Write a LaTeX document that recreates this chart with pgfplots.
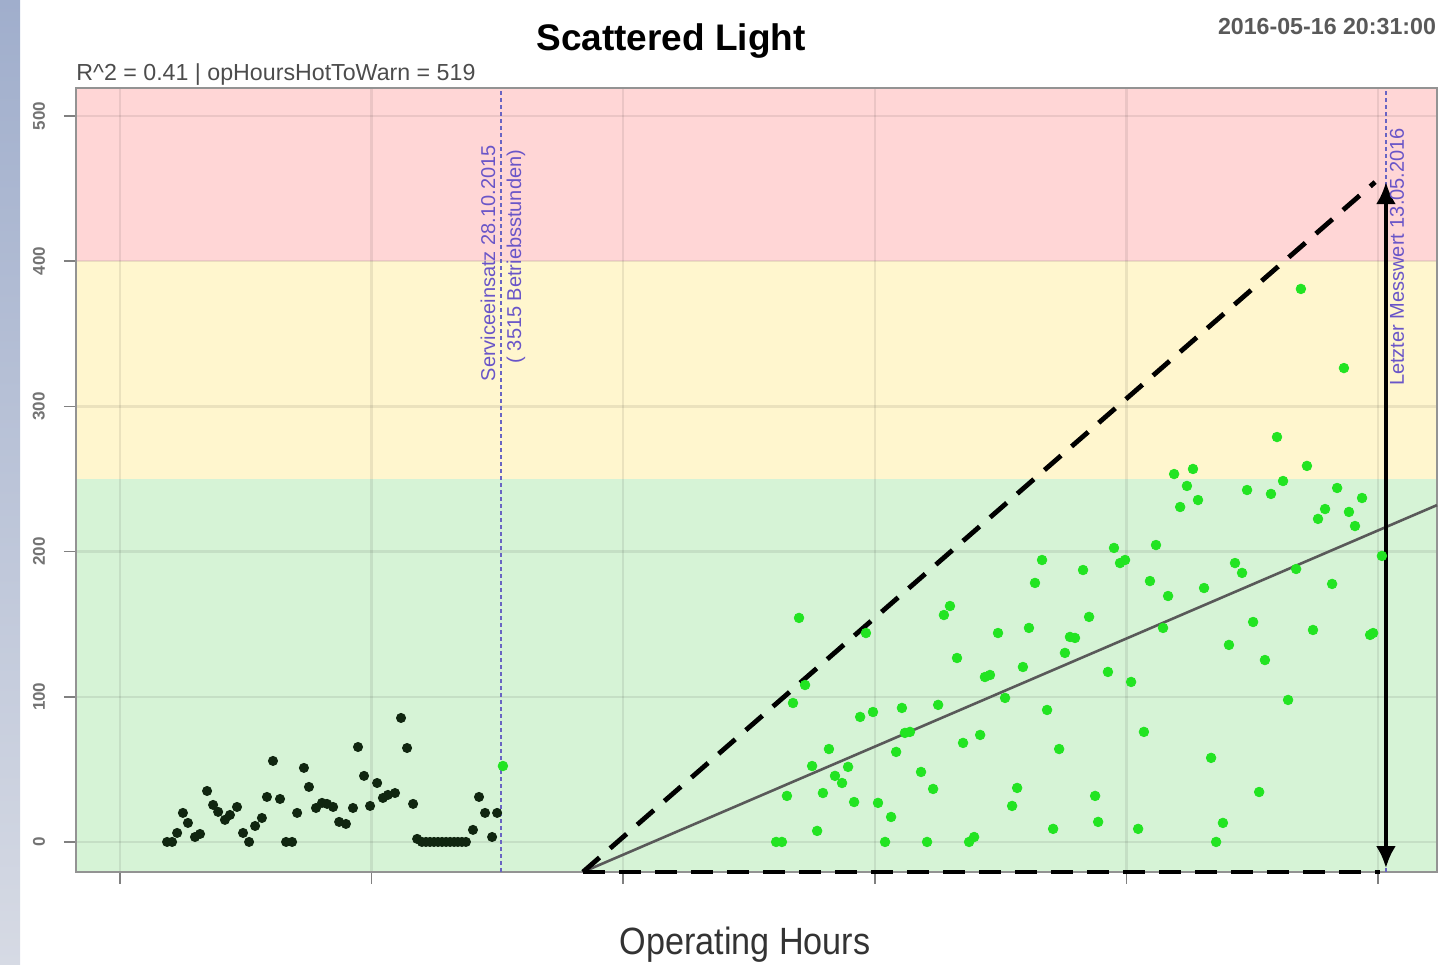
\documentclass[border=0pt]{standalone}
\usepackage{pgfplots}
\pgfplotsset{compat=1.18}
\usepackage{pgfplotstable}
\usepackage{fontspec}
\setmainfont{Liberation Sans}
\usetikzlibrary{arrows.meta}

\definecolor{bandred}{RGB}{255,214,214}
\definecolor{bandyellow}{RGB}{255,246,206}
\definecolor{bandgreen}{RGB}{214,243,214}
\definecolor{ptgreen}{RGB}{34,228,34}
\definecolor{ptdark}{RGB}{16,38,16}
\definecolor{vline}{RGB}{105,100,195}
\definecolor{vtext}{RGB}{105,85,200}

% measurements before the service visit
\pgfplotstableread{
x y
2187 0
2207 0
2227 6.2
2250 20.0
2270 13.1
2298 3.4
2318 5.5
2346 35.1
2370 25.5
2390 20.7
2417 15.2
2437 18.6
2465 24.1
2489 6.2
2513 0
2537 11.0
2564 16.5
2584 31.0
2608 55.8
2636 29.6
2660 0
2684 0
2704 20.0
2731 51.0
2751 37.9
2779 23.4
2803 26.9
2823 26.2
2847 24.1
2871 13.8
2898 12.4
2926 23.4
2946 65.4
2970 45.5
2994 24.8
3022 40.6
3045 30.3
3065 32.4
3093 33.7
3117 85.4
3141 64.7
3165 26.2
3181 2.1
3200 0
3216 0
3232 0
3248 0
3264 0
3280 0
3296 0
3312 0
3328 0
3343 0
3359 0
3375 0
3403 8.3
3427 31.0
3451 20.0
3479 3.4
3499 20.0
}\before

% measurements after the service visit
\pgfplotstableread{
x y
3522 52.3
4608 0
4631 0
4651 31.7
4675 95.7
4699 154.3
4723 108.1
4751 52.3
4771 7.6
4794 33.7
4818 64.0
4842 45.5
4870 40.6
4894 51.7
4918 27.5
4942 86.1
4965 143.9
4993 89.5
5013 26.9
5041 0
5065 17.2
5085 62.0
5108 92.3
5120 75.1
5140 75.8
5184 48.2
5208 0
5232 36.5
5252 94.4
5275 156.3
5299 162.5
5327 126.7
5351 68.2
5375 0
5395 3.4
5419 73.7
5438 113.6
5458 115.0
5490 143.9
5518 99.2
5546 24.8
5566 37.2
5589 120.5
5613 147.4
5637 178.4
5665 194.2
5685 90.9
5709 9.0
5733 64.0
5756 130.2
5776 141.2
5796 140.5
5828 187.3
5852 155.0
5876 31.7
5888 13.8
5927 117.1
5951 202.5
5975 192.1
5995 194.2
6019 110.2
6047 9.0
6070 75.8
6094 179.7
6118 204.5
6146 147.4
6166 169.4
6190 253.4
6214 230.7
6241 245.2
6265 256.9
6285 235.5
6309 174.9
6337 57.9
6357 0
6384 13.1
6408 135.7
6432 192.1
6460 185.3
6480 242.4
6504 151.5
6528 34.4
6551 125.3
6575 239.7
6599 278.9
6623 248.6
6643 97.8
6675 188.0
6694 380.9
6718 259.0
6742 146.0
6762 222.5
6790 229.3
6818 177.7
6838 243.8
6865 326.4
6885 227.3
6909 217.6
6937 236.9
6969 142.6
6981 143.9
7016 197.0
}\after

\begin{document}
\begin{tikzpicture}
% strip of the cropped screenshot at the left edge
\shade[top color={rgb,255:red,160;green,174;blue,204}, bottom color={rgb,255:red,214;green,218;blue,228}]
  (0,0) rectangle (10pt,482.5pt);

\begin{axis}[
  at={(38pt,46.5pt)}, anchor=south west,
  scale only axis, width=680.5pt, height=392pt,
  set layers, clip=false,
  xmin=1825, xmax=7235, ymin=-20.7, ymax=519.3,
  xtick={2000,3000,...,7000}, xticklabels={},
  ytick={0,100,...,500},
  tick pos=left,
  tick align=outside, major tick length=6pt,
  tick style={draw=gray, line width=0.8pt},
  axis line style={draw=gray!85, line width=1pt},
  grid=major, grid style={draw=black, opacity=0.08, line width=1.2pt},
  /pgf/number format/assume math mode=true,
  yticklabel style={rotate=90, anchor=south, yshift=6pt,
    font=\fontsize{8.5}{10}\bfseries, text=black!55},
]
% zones
\addplot[draw=none, fill=bandgreen, on layer=axis background]
  coordinates {(1825,-20.7) (7235,-20.7) (7235,250) (1825,250) (1825,-20.7)};
\addplot[draw=none, fill=bandyellow, on layer=axis background]
  coordinates {(1825,250) (7235,250) (7235,400) (1825,400) (1825,250)};
\addplot[draw=none, fill=bandred, on layer=axis background]
  coordinates {(1825,400) (7235,400) (7235,519.3) (1825,519.3) (1825,400)};

% service and last measurement
\addplot[vline, line width=0.7pt, dash pattern=on 2pt off 1.5pt] coordinates {(3515,-20.7) (3515,519.3)};
\addplot[vline, line width=0.7pt, dash pattern=on 2pt off 1.5pt] coordinates {(7032,-20.7) (7032,519.3)};

\addplot[only marks, mark=*, mark size=2.3pt, ptdark] table {\before};
\addplot[only marks, mark=*, mark size=2.4pt, ptgreen] table {\after};

% fit and envelope
\addplot[black!65, line width=1.3pt] coordinates {(3840,-20.7) (7235,232)};
\addplot[black, line width=2.4pt, dash pattern=on 11pt off 7pt] coordinates {(3840,-20.7) (6989,454.5)};
\addplot[black, line width=2.4pt, dash pattern=on 11pt off 7pt] coordinates {(3840,-20.7) (7009,-20.7)};
\addplot[black, line width=2pt, {Latex[length=11pt,width=10pt]}-{Latex[length=11pt,width=10pt]}]
  coordinates {(7032,-18) (7032,454.5)};

\node[rotate=90, anchor=east, text=vtext, font=\fontsize{10}{12}\selectfont, inner sep=0pt]
  at (axis cs:3463,480) {Serviceeinsatz 28.10.2015};
\node[rotate=90, anchor=east, text=vtext, font=\fontsize{10}{12}\selectfont, inner sep=0pt]
  at (axis cs:3574,477) {( 3515 Betriebsstunden)};
\node[rotate=90, anchor=east, text=vtext, font=\fontsize{10}{12}\selectfont, inner sep=0pt]
  at (axis cs:7076,492) {Letzter Messwert 13.05.2016};
\end{axis}

\node[font=\fontsize{18.5}{20}\bfseries] at (335.5pt,462pt) {Scattered Light};
\node[font=\fontsize{11.6}{13}\bfseries, text=black!65] at (663.5pt,469pt) {2016-05-16 20:31:00};
\node[anchor=west, inner sep=0pt, font=\fontsize{11.6}{13}\selectfont, text=black!70]
  at (38pt,445pt) {R\textasciicircum 2 = 0.41 | opHoursHotToWarn = 519};
\node[font=\fontsize{19}{21}\selectfont, text=black!80] at (372.5pt,10pt)
  {\scalebox{0.9}[1]{Operating Hours}};

\pgfresetboundingbox
\useasboundingbox (0,0) rectangle (726.5pt,482.5pt);
\end{tikzpicture}
\end{document}
